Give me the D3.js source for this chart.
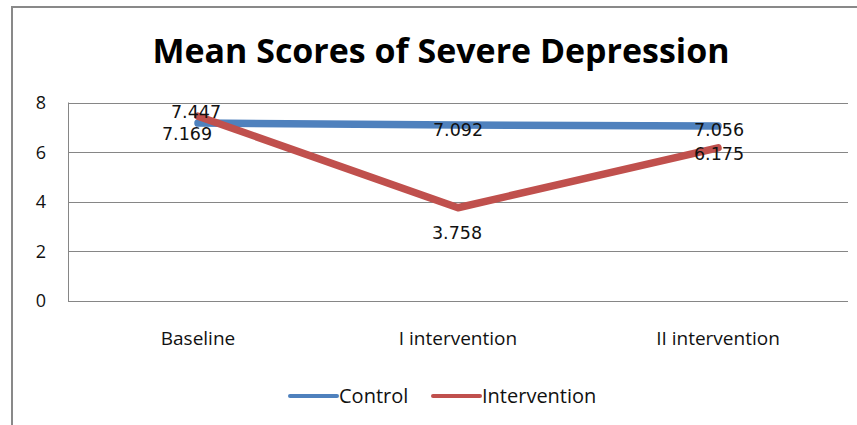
<!DOCTYPE html>
<html>
<head>
<meta charset="utf-8">
<script src="https://cdn.jsdelivr.net/npm/d3@7"></script>
<style>
  html, body { margin: 0; padding: 0; background: #fff; }
  svg { display: block; }
</style>
</head>
<body>
<svg></svg>
<script>
// chart data
const categories = ["Baseline", "I intervention", "II intervention"];
const controlValues = [7.169, 7.092, 7.056];
const interventionValues = [7.447, 3.758, 6.175];
const yTicks = [0, 2, 4, 6, 8];
const seriesNames = ["Control", "Intervention"];
const seriesColors = ["#4f81bd", "#c0504d"];
// label nudges (px) relative to each point, per series
const labelShift = [
  [[-11, 11], [0, 5], [1, 4]],
  [[-2, -5], [-1, 25], [1, 6]]
];

const width = 857, height = 425;
const margin = {top: 102.5, right: 9, bottom: 124, left: 68};

const svg = d3.select("svg")
    .attr("width", width)
    .attr("height", height);

// outer chart frame (only left + top show in the crop)
svg.append("path")
    .attr("d", "M12,425 V7 H857")
    .attr("fill", "none")
    .attr("stroke", "#898989")
    .attr("stroke-width", 2);

svg.append("text")
    .attr("x", 441)
    .attr("y", 63)
    .attr("text-anchor", "middle")
    .attr("font-family", "'Open Sans', sans-serif")
    .attr("font-weight", "bold")
    .attr("font-size", 34)
    .attr("textLength", 577)
    .attr("lengthAdjust", "spacingAndGlyphs")
    .text("Mean Scores of Severe Depression");

const x = d3.scaleBand()
    .domain(categories)
    .range([margin.left, width - margin.right]);

const y = d3.scaleLinear()
    .domain([0, 8])
    .range([height - margin.bottom, margin.top]);

// gridlines
svg.append("g")
    .selectAll("line").data(yTicks)
    .enter().append("line")
        .attr("x1", margin.left)
        .attr("x2", width - margin.right)
        .attr("y1", d => Math.round(y(d)) + 0.5)
        .attr("y2", d => Math.round(y(d)) + 0.5)
        .attr("stroke", "#868686")
        .attr("stroke-width", 1);

svg.append("line")
    .attr("x1", margin.left + 0.5)
    .attr("x2", margin.left + 0.5)
    .attr("y1", y(8))
    .attr("y2", y(0))
    .attr("stroke", "#868686");

// y tick labels
svg.append("g")
    .selectAll("text").data(yTicks)
    .enter().append("text")
        .attr("x", 46)
        .attr("y", d => y(d))
        .attr("dy", "0.36em")
        .attr("text-anchor", "end")
        .attr("font-family", "'Open Sans', sans-serif")
        .attr("font-size", 18)
        .attr("fill", "#111")
        .text(d => d);

// x tick labels
svg.append("g")
    .selectAll("text").data(categories)
    .enter().append("text")
        .attr("x", d => x(d) + x.bandwidth() / 2)
        .attr("y", 345)
        .attr("text-anchor", "middle")
        .attr("font-family", "'Open Sans', sans-serif")
        .attr("font-size", 19)
        .attr("fill", "#111")
        .text(d => d);

const series = [controlValues, interventionValues];

const line = d3.line()
    .x((d, i) => x(categories[i]) + x.bandwidth() / 2)
    .y(d => y(d));

series.forEach(function(vals, s) {
    svg.append("path")
        .attr("d", line(vals))
        .attr("fill", "none")
        .attr("stroke", seriesColors[s])
        .attr("stroke-width", 7.5)
        .attr("stroke-linejoin", "round")
        .attr("stroke-linecap", "round");
});

series.forEach(function(vals, s) {
    svg.append("g")
        .selectAll("text").data(vals)
        .enter().append("text")
            .attr("x", (d, i) => x(categories[i]) + x.bandwidth() / 2 + labelShift[s][i][0])
            .attr("y", (d, i) => y(d) + labelShift[s][i][1])
            .attr("dy", "0.36em")
            .attr("text-anchor", "middle")
            .attr("font-family", "'DejaVu Sans', sans-serif")
            .attr("font-size", 17.5)
            .attr("fill", "#111")
            .text(d => d.toFixed(3));
});

// legend
const legendX = [290, 433];
const legend = svg.append("g")
    .selectAll("g").data(seriesNames)
    .enter().append("g")
        .attr("transform", (d, i) => "translate(" + legendX[i] + ",396)");

legend.append("line")
    .attr("x1", 0).attr("x2", 47)
    .attr("y1", 0).attr("y2", 0)
    .attr("stroke", (d, i) => seriesColors[i])
    .attr("stroke-width", 4)
    .attr("stroke-linecap", "round");

legend.append("text")
    .attr("x", 49)
    .attr("y", 0)
    .attr("dy", "0.36em")
    .attr("font-family", "'Open Sans', sans-serif")
    .attr("font-size", 20)
    .attr("fill", "#111")
    .text(d => d);
</script>
</body>
</html>
